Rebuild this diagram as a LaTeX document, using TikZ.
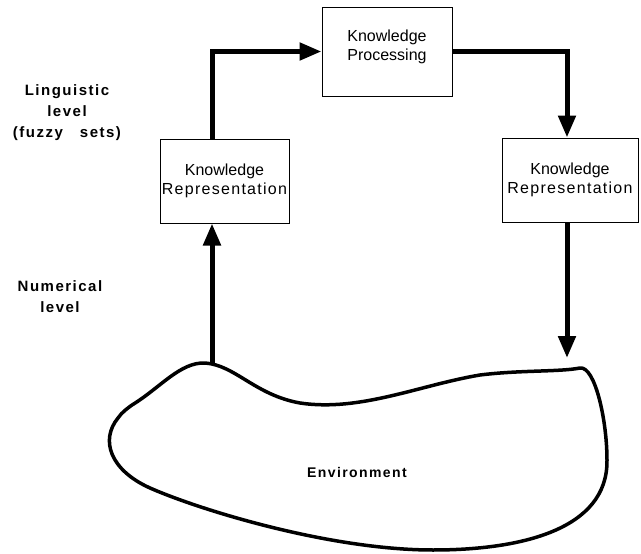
\documentclass[tikz,border=0pt]{standalone}
\usepackage{fontspec}
\setmainfont{Liberation Sans}
\newfontfamily\wide{Liberation Sans}[LetterSpace=8]
\newfontfamily\levelfont{Liberation Sans}[LetterSpace=10]
\usepackage{tikz}
\usetikzlibrary{positioning}
\usetikzlibrary{calc}
\usetikzlibrary{arrows.meta}
\tikzset{kbox/.style={draw,line width=1pt,inner sep=1pt,align=center,font=\fontsize{16}{19}\selectfont},
flow/.style={line width=5pt,-{Triangle[length=22pt,width=17pt]}},
levellabel/.style={align=center,font=\fontsize{15}{21}\selectfont\levelfont\bfseries}}

\begin{document}
\begin{tikzpicture}[x=1pt,y=-1pt]
\useasboundingbox (0,0) rectangle (641,554);
\node (kp) at (387,51.5) [kbox,minimum width=130pt,minimum height=89pt] {Knowledge\\Processing\\[-7pt]\mbox{}};
\node (krl) at (224.5,181) [kbox,minimum width=129pt,minimum height=84pt] {\mbox{}\\[-7pt]Knowledge\\{\wide Representation}};
\node (krr) at (570,180) [kbox,minimum width=136pt,minimum height=84pt] {\mbox{}\\[-7pt]Knowledge\\{\wide Representation}};
\node (ling) at (67,113) [levellabel] {Linguistic\\level\\(fuzzy\ \ \ sets)};
\node (num) at (60,297) [levellabel] {Numerical\\level};

% environment
\draw[line width=3.5pt,line join=round] (205,363) .. controls (235,365) and (255,395) .. (300,403)
 .. controls (360,412) and (420,385) .. (480,375) .. controls (520,370) and (560,372) .. (580,368)
 .. controls (595,366) and (607,420) .. (607,460) .. controls (608,530) and (520,550) .. (433,550)
 .. controls (330,550) and (200,510) .. (150,488) .. controls (110,470) and (100,440) .. (118,418)
 .. controls (122,412) and (128,408) .. (132,405) .. controls (160,388) and (180,362) .. cycle;
\node (env) at (357,472) [font=\fontsize{14}{16}\selectfont\levelfont\bfseries] {Environment};
\coordinate (envtop) at (212,364);
\coordinate (envin) at (567,358);

\draw[flow] (envtop) -- (envtop |- krl.south);
\draw[flow] (envtop |- krl.north) |- (kp.west);
\draw[flow] (kp.east) -| (envin |- krr.north);
\draw[flow] (envin |- krr.south) -- (envin);
\end{tikzpicture}
\end{document}
